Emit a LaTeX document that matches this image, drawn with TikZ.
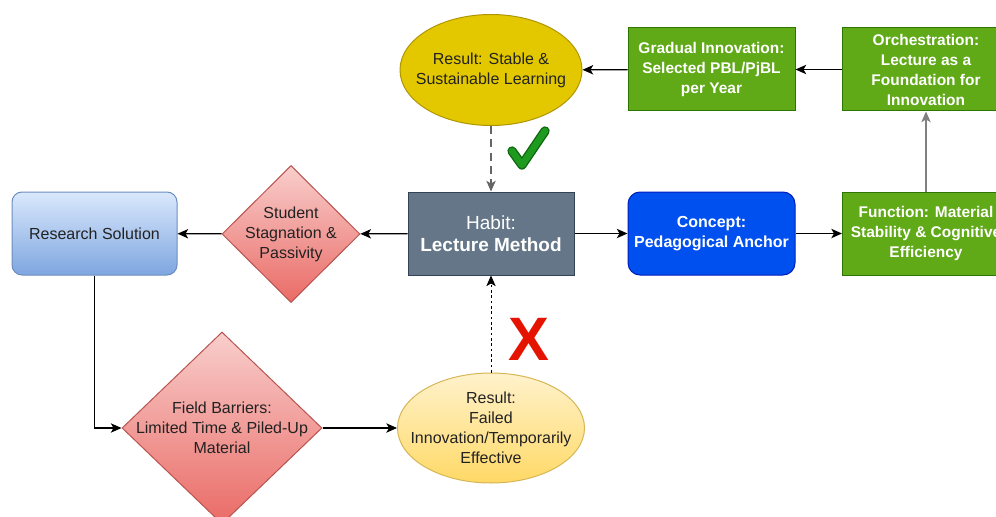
\documentclass[tikz,border=0pt]{standalone}
\usepackage{fontspec}
\setmainfont{Liberation Sans}
\usetikzlibrary{arrows.meta, shapes.geometric}

\definecolor{goldFill}{HTML}{E3C800}
\definecolor{goldLine}{HTML}{B09500}
\definecolor{paleTop}{HTML}{FFF2CC}
\definecolor{paleBot}{HTML}{FFD966}
\definecolor{paleLine}{HTML}{D6B656}
\definecolor{redTop}{HTML}{F8CECC}
\definecolor{redBot}{HTML}{EA6B66}
\definecolor{redLine}{HTML}{B85450}
\definecolor{blueTop}{HTML}{DAE8FC}
\definecolor{blueBot}{HTML}{7EA6E0}
\definecolor{blueLine}{HTML}{6C8EBF}
\definecolor{habitFill}{HTML}{647687}
\definecolor{habitLine}{HTML}{314354}
\definecolor{conceptFill}{HTML}{0050EF}
\definecolor{conceptLine}{HTML}{001DBC}
\definecolor{greenFill}{HTML}{60A917}
\definecolor{greenLine}{HTML}{2D7600}
\definecolor{checkGreen}{HTML}{1E9A1E}
\definecolor{checkDark}{HTML}{0E660E}
\definecolor{crossRed}{HTML}{E51400}
\definecolor{inkDark}{HTML}{222222}

\tikzset{
  arr/.style={-{Stealth[length=8pt,width=7pt,inset=2pt]}, line width=0.9pt},
  box/.style={draw, line width=0.75pt, minimum width=125.25pt, minimum height=62.25pt, inner sep=0pt, align=center},
  greenbox/.style={box, fill=greenFill, draw=greenLine, text=white, font=\fontsize{11.6}{15}\selectfont\bfseries},
  dia/.style={diamond, draw=redLine, top color=redTop, bottom color=redBot, line width=0.75pt, inner sep=0pt},
  oval/.style={ellipse, line width=0.75pt, inner sep=0pt},
  txt/.style={align=center, text=inkDark, inner sep=0pt, font=\fontsize{12}{15}\selectfont},
}

\begin{document}
\begin{tikzpicture}[x=0.75pt,y=0.75pt,yscale=-1,xscale=1]
\useasboundingbox (0,0) rectangle (996,517);

%Shape: Ellipse [stable]
\node[oval, draw=goldLine, fill=goldFill, minimum width=136.5pt, minimum height=83.25pt] (stable) at (491,70) {};
\node[txt] (stabletxt) at (stable) {Result: Stable \&\\Sustainable Learning};

%Shape: Rectangle [gradual]
\node[greenbox] (gradual) at (711.5,69.5) {Gradual Innovation:\\Selected PBL/PjBL\\per Year};
%Shape: Rectangle [orch]
\node[greenbox] (orch) at (926,69.5) {Orchestration:\\Lecture as a\\Foundation for\\Innovation};

%Shape: Rectangle [research]
\node[box, rounded corners=7.5pt, draw=blueLine, top color=blueTop, bottom color=blueBot, minimum width=123.75pt, txt] (research) at (94.5,233.5) {Research Solution};
%Shape: Diamond [stag]
\node[dia, minimum width=103.5pt, minimum height=102.75pt] (stag) at (291,234) {};
\node[txt] (stagtxt) at (stag) {Student\\Stagnation \&\\Passivity};
%Shape: Rectangle [habit]
\node[box, fill=habitFill, draw=habitLine, text=white, minimum width=124.5pt, font=\fontsize{14.25}{16.5}\selectfont] (habit) at (491,233.5) {Habit:\\\textbf{Lecture Method}};
%Shape: Rectangle [concept]
\node[box, rounded corners=9pt, fill=conceptFill, draw=conceptLine, text=white, font=\fontsize{12}{15}\selectfont\bfseries] (concept) at (711.5,233.5) {Concept:\\Pedagogical Anchor};
%Shape: Rectangle [function]
\node[greenbox] (function) at (926,233.5) {Function: Material\\Stability \& Cognitive\\Efficiency};

%Shape: Diamond [field]
\node[dia, minimum width=150pt, minimum height=144pt] (field) at (222,428) {};
\node[txt] (fieldtxt) at (field) {Field Barriers:\\Limited Time \& Piled-Up\\Material};
%Shape: Ellipse [fail]
\node[oval, draw=paleLine, top color=paleTop, bottom color=paleBot, minimum width=140.25pt, minimum height=82.5pt] (fail) at (491,428) {};
\node[txt] (failtxt) at (fail) {Result:\\Failed\\Innovation/Temporarily\\Effective};

%Marks
\draw[checkDark, line width=7pt, line cap=round, line join=round] (512,151) -- (522,165) -- (545,131);
\draw[checkGreen, line width=5pt, line cap=round, line join=round] (512,151) -- (522,165) -- (545,131);
\node[text=crossRed, inner sep=0pt, font=\fontsize{46}{46}\selectfont\bfseries] (cross) at (529,339) {X};

%Straight Lines
\draw[arr, draw=gray!80!black, dash pattern=on 6pt off 4pt] (stable) -- (habit);
\draw[arr, line width=0.75pt, dash pattern=on 2pt off 2pt] (fail) -- (habit);
\draw[arr] (habit) -- (stag);
\draw[arr] (stag) -- (research);
\draw[arr] (research.south) |- (field.west);
\draw[arr] (field) -- (fail);
\draw[arr] (habit) -- (concept);
\draw[arr] (concept) -- (function);
\draw[arr, draw=gray, fill=gray] (function) -- (orch);
\draw[arr] (orch) -- (gradual);
\draw[arr] (gradual) -- (stable);
\end{tikzpicture}
\end{document}
